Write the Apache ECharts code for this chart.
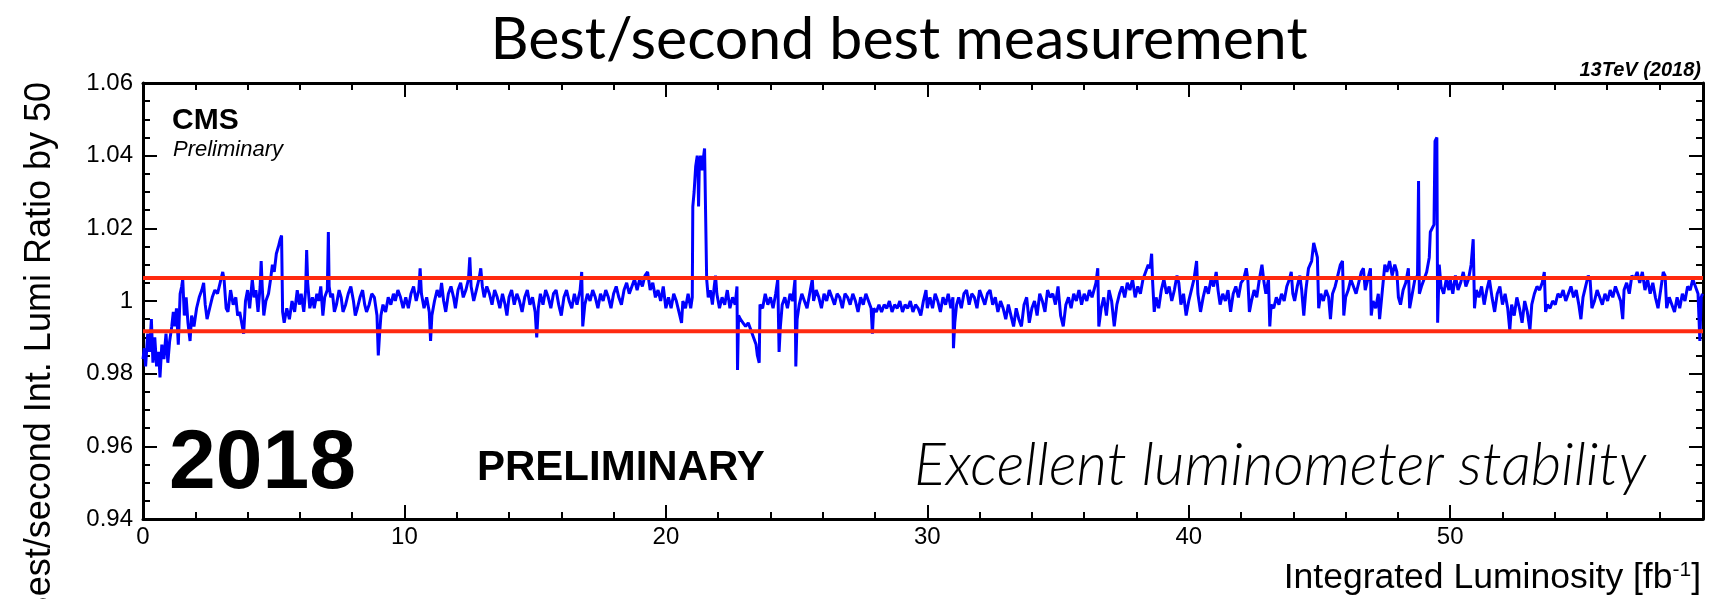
<!DOCTYPE html>
<html><head><meta charset="utf-8">
<script src="https://cdn.jsdelivr.net/npm/echarts@6/dist/echarts.min.js"></script>
<style>html,body{margin:0;padding:0;background:#fff}#c{width:1718px;height:599px}</style>
</head><body><div id="c"></div>
<script>
const TITLE = 'Best/second best measurement';
const Y_NAME = 'Best/second Int. Lumi Ratio by 50';
const X_NAME = 'Integrated Luminosity [fb{sup|-1}]';
const ENERGY = '13TeV (2018)';
const X_MIN = 0, X_MAX = 59.67, X_STEP = 10, X_MINOR = 2;
const Y_MIN = 0.94, Y_MAX = 1.06, Y_STEP = 0.02;
const BAND_UPPER = 1.0063, BAND_LOWER = 0.9917;

// [integrated luminosity (fb^-1), best/second ratio]
const run0to10 = [[0.00,0.984],[0.05,0.987],[0.10,0.982],[0.18,0.991],[0.25,0.986],[0.32,0.995],[0.38,0.983],[0.45,0.990],[0.52,0.982],[0.60,0.986],[0.65,0.979],[0.72,0.988],[0.80,0.984],[0.88,0.991],[0.95,0.983],[1.02,0.989],[1.10,0.993],[1.16,0.997],[1.22,0.993],[1.28,0.998],[1.35,0.988],[1.42,1.002],[1.48,1.004],[1.52,1.006],[1.58,0.996],[1.65,1.001],[1.72,0.994],[1.80,0.989],[1.86,0.996],[1.95,0.993],[2.05,0.998],[2.15,1.001],[2.25,1.003],[2.32,1.005],[2.38,0.999],[2.45,0.995],[2.55,0.998],[2.65,1.001],[2.75,1.003],[2.85,1.002],[2.95,1.005],[3.05,1.008],[3.10,1.006],[3.18,0.998],[3.25,0.997],[3.35,1.003],[3.45,0.999],[3.55,1.001],[3.62,0.996],[3.70,0.997],[3.80,0.993],[3.85,0.991],[3.92,1.000],[4.00,1.003],[4.08,0.998],[4.18,1.006],[4.25,1.001],[4.32,1.003],[4.40,0.997],[4.48,1.004],[4.52,1.011],[4.56,1.004],[4.62,0.996],[4.70,1.000],[4.80,1.002],[4.88,1.006],[4.95,1.010],[5.02,1.008],[5.10,1.013],[5.18,1.015],[5.25,1.017],[5.30,1.018],[5.34,0.997],[5.40,0.994],[5.50,0.998],[5.60,0.995],[5.70,1.000],[5.80,0.997],[5.90,1.003],[5.98,0.999],[6.05,1.002],[6.15,0.997],[6.22,1.003],[6.26,1.014],[6.30,1.005],[6.38,0.998],[6.48,1.001],[6.55,0.998],[6.65,1.002],[6.72,1.000],[6.80,1.004],[6.88,0.996],[6.95,1.001],[7.05,1.003],[7.09,1.019],[7.12,1.004],[7.18,1.001],[7.25,1.002],[7.32,0.997],[7.40,0.999],[7.50,1.003],[7.58,1.001],[7.65,0.997],[7.75,0.999],[7.85,1.002],[7.95,1.004],[8.05,1.000],[8.12,0.996],[8.20,0.998],[8.30,1.001],[8.40,1.003],[8.48,0.999],[8.55,0.997],[8.65,0.999],[8.75,1.002],[8.85,1.001],[8.95,0.996],[9.00,0.985],[9.05,0.991],[9.10,0.996],[9.18,0.999],[9.28,0.997],[9.38,1.001],[9.48,0.999],[9.58,1.002],[9.65,1.000],[9.75,1.003],[9.85,1.001],[9.95,0.998]];
const run10to20 = [[10.05,1.001],[10.15,0.998],[10.25,1.002],[10.35,1.004],[10.45,1.000],[10.55,1.003],[10.60,1.009],[10.65,1.002],[10.75,0.998],[10.85,1.001],[10.95,0.997],[11.00,0.989],[11.05,0.996],[11.15,1.000],[11.25,1.003],[11.35,1.001],[11.42,1.005],[11.50,1.000],[11.58,0.997],[11.68,1.002],[11.78,1.004],[11.88,1.001],[11.95,0.998],[12.05,1.003],[12.15,1.005],[12.25,1.001],[12.35,1.003],[12.45,1.006],[12.50,1.012],[12.55,1.004],[12.65,1.000],[12.75,1.003],[12.85,1.006],[12.92,1.009],[12.98,1.004],[13.05,1.001],[13.15,1.004],[13.25,1.002],[13.35,0.999],[13.45,1.003],[13.55,1.001],[13.65,0.998],[13.75,1.002],[13.85,0.999],[13.92,0.996],[14.00,1.001],[14.10,1.003],[14.20,0.999],[14.30,1.002],[14.40,1.000],[14.50,0.997],[14.60,1.001],[14.70,1.003],[14.80,0.999],[14.90,1.001],[15.00,0.997],[15.06,0.990],[15.12,0.998],[15.20,1.002],[15.30,0.999],[15.40,1.003],[15.50,1.001],[15.60,0.998],[15.70,1.002],[15.80,1.003],[15.90,0.999],[16.00,0.996],[16.10,1.001],[16.20,1.003],[16.30,1.000],[16.40,0.998],[16.50,1.002],[16.60,0.999],[16.72,1.003],[16.78,1.008],[16.82,0.993],[16.90,0.999],[17.00,1.002],[17.10,1.000],[17.20,1.003],[17.30,1.001],[17.40,0.998],[17.50,1.002],[17.60,1.000],[17.70,1.003],[17.80,1.001],[17.90,0.998],[18.00,1.002],[18.10,1.004],[18.20,1.001],[18.30,0.999],[18.40,1.003],[18.50,1.005],[18.60,1.002],[18.70,1.004],[18.80,1.006],[18.90,1.003],[19.00,1.006],[19.10,1.004],[19.20,1.007],[19.30,1.008],[19.40,1.003],[19.50,1.005],[19.60,1.001],[19.70,1.003],[19.80,1.000],[19.90,1.004],[20.00,0.998]];
const run20to30 = [[20.10,1.001],[20.20,0.998],[20.30,1.002],[20.40,1.000],[20.50,0.997],[20.60,0.994],[20.65,1.000],[20.75,0.998],[20.85,1.002],[20.95,0.998],[21.01,1.001],[21.03,1.026],[21.08,1.030],[21.14,1.037],[21.20,1.040],[21.23,1.036],[21.25,1.026],[21.28,1.038],[21.33,1.040],[21.38,1.036],[21.43,1.039],[21.48,1.042],[21.53,1.042],[21.56,1.006],[21.62,1.001],[21.70,1.003],[21.78,0.999],[21.85,1.004],[21.90,1.007],[21.95,1.002],[22.05,0.998],[22.15,1.001],[22.25,0.999],[22.35,1.003],[22.45,0.998],[22.55,1.001],[22.65,0.999],[22.72,1.004],[22.74,0.981],[22.78,0.996],[22.85,0.995],[22.95,0.994],[23.05,0.993],[23.15,0.994],[23.25,0.992],[23.35,0.990],[23.45,0.988],[23.50,0.985],[23.57,0.983],[23.60,0.999],[23.70,0.998],[23.80,1.002],[23.90,0.999],[24.00,1.001],[24.10,0.998],[24.20,1.002],[24.28,1.006],[24.33,0.986],[24.38,0.993],[24.45,0.999],[24.55,1.001],[24.65,0.998],[24.75,1.002],[24.85,1.000],[24.94,1.006],[24.97,0.982],[25.02,0.995],[25.10,0.999],[25.20,1.002],[25.30,1.000],[25.40,0.998],[25.50,1.002],[25.60,1.006],[25.65,1.000],[25.75,1.003],[25.85,1.001],[25.95,0.998],[26.05,1.002],[26.15,1.000],[26.25,1.003],[26.35,1.001],[26.45,0.999],[26.55,1.002],[26.65,1.001],[26.75,0.998],[26.85,1.002],[26.95,1.001],[27.05,0.999],[27.15,1.002],[27.25,1.000],[27.35,0.997],[27.45,1.001],[27.55,0.999],[27.65,1.002],[27.75,1.000],[27.85,0.998],[27.90,0.991],[27.95,0.998],[28.05,0.997],[28.15,0.999],[28.25,0.997],[28.35,0.999],[28.45,0.998],[28.55,1.000],[28.65,0.997],[28.75,0.999],[28.85,0.998],[28.95,1.000],[29.05,0.997],[29.15,0.999],[29.25,0.998],[29.35,1.000],[29.45,0.997],[29.55,0.999],[29.65,0.998],[29.75,0.996],[29.85,1.000],[29.95,1.003],[30.00,0.998]];
const run30to40 = [[30.10,1.001],[30.20,0.998],[30.30,1.002],[30.40,1.000],[30.50,0.997],[30.60,1.001],[30.70,0.999],[30.80,1.002],[30.90,0.998],[30.98,1.001],[31.00,0.987],[31.05,0.994],[31.12,0.999],[31.20,1.001],[31.30,0.998],[31.40,1.002],[31.50,1.003],[31.60,0.999],[31.70,1.002],[31.80,1.001],[31.90,0.998],[32.00,1.003],[32.10,1.001],[32.20,0.999],[32.30,1.002],[32.40,1.003],[32.50,0.999],[32.60,1.001],[32.70,0.997],[32.80,1.000],[32.90,0.998],[33.00,0.995],[33.10,0.999],[33.20,0.996],[33.30,0.993],[33.40,0.998],[33.50,0.995],[33.60,0.993],[33.70,0.999],[33.80,1.001],[33.90,0.994],[34.00,0.998],[34.10,1.000],[34.20,0.996],[34.30,1.002],[34.40,1.000],[34.50,0.997],[34.60,1.003],[34.70,1.001],[34.80,1.002],[34.90,0.999],[35.00,1.004],[35.10,0.996],[35.20,0.993],[35.30,0.999],[35.40,1.001],[35.50,0.998],[35.60,1.002],[35.70,1.000],[35.80,1.003],[35.90,0.999],[36.00,1.002],[36.10,1.000],[36.20,1.003],[36.30,1.001],[36.45,1.005],[36.52,1.009],[36.56,0.993],[36.65,0.998],[36.75,1.001],[36.85,0.996],[36.95,1.003],[37.05,1.000],[37.15,0.993],[37.25,0.999],[37.35,1.002],[37.45,1.004],[37.55,1.001],[37.65,1.005],[37.75,1.003],[37.85,1.006],[37.95,1.001],[38.05,1.004],[38.15,1.002],[38.25,1.006],[38.35,1.008],[38.45,1.010],[38.52,1.009],[38.58,1.013],[38.62,1.005],[38.68,0.997],[38.75,1.001],[38.85,0.998],[38.95,1.003],[39.05,1.006],[39.15,1.002],[39.25,1.004],[39.35,1.000],[39.45,1.003],[39.55,1.007],[39.62,1.005],[39.70,0.999],[39.80,1.002],[39.90,0.996],[40.00,1.000]];
const run40to50 = [[40.10,1.003],[40.20,1.006],[40.30,1.011],[40.35,1.002],[40.45,0.997],[40.55,1.001],[40.65,1.004],[40.75,1.002],[40.85,1.006],[40.95,1.004],[41.05,1.008],[41.12,1.003],[41.20,0.999],[41.30,1.002],[41.40,1.000],[41.50,1.003],[41.60,0.997],[41.70,1.002],[41.80,1.004],[41.90,1.001],[42.00,1.005],[42.10,1.006],[42.20,1.009],[42.26,1.006],[42.32,0.997],[42.40,1.000],[42.50,1.003],[42.60,1.001],[42.70,1.006],[42.80,1.010],[42.88,1.005],[42.95,1.002],[43.05,1.006],[43.10,0.993],[43.15,0.999],[43.25,0.998],[43.35,1.001],[43.45,0.999],[43.55,1.002],[43.65,1.000],[43.75,1.004],[43.85,1.006],[43.92,1.008],[43.98,1.002],[44.05,1.000],[44.15,1.004],[44.25,1.007],[44.32,1.003],[44.40,0.996],[44.48,1.003],[44.58,1.009],[44.70,1.011],[44.78,1.016],[44.85,1.016],[44.92,1.012],[44.97,0.998],[45.05,1.002],[45.15,1.000],[45.25,1.003],[45.35,1.001],[45.42,0.995],[45.50,1.002],[45.60,1.004],[45.70,1.007],[45.80,1.010],[45.88,1.011],[45.93,0.996],[46.00,1.001],[46.10,1.003],[46.20,1.006],[46.30,1.004],[46.40,1.002],[46.50,1.005],[46.60,1.008],[46.68,1.009],[46.75,1.003],[46.85,1.006],[46.95,1.009],[46.98,0.996],[47.05,1.000],[47.15,0.998],[47.25,1.002],[47.30,0.995],[47.38,1.001],[47.50,1.010],[47.58,1.008],[47.68,1.011],[47.78,1.007],[47.88,1.010],[47.96,1.008],[48.02,1.001],[48.10,0.999],[48.20,1.003],[48.30,1.005],[48.40,1.009],[48.45,0.998],[48.55,1.002],[48.65,1.006],[48.75,1.007],[48.79,1.033],[48.82,1.002],[48.90,1.004],[49.00,1.006],[49.10,1.008],[49.20,1.012],[49.24,1.019],[49.30,1.019],[49.38,1.021],[49.42,1.044],[49.49,1.045],[49.52,0.994],[49.58,1.010],[49.65,1.004],[49.75,1.002],[49.85,1.006],[49.95,1.003],[50.00,1.006]];
const run50to60 = [[50.10,1.002],[50.20,1.007],[50.30,1.003],[50.40,1.005],[50.50,1.008],[50.60,1.004],[50.70,1.006],[50.80,1.010],[50.88,1.017],[50.93,0.998],[51.00,1.003],[51.10,1.001],[51.20,1.004],[51.30,0.999],[51.40,1.003],[51.50,1.006],[51.60,1.001],[51.70,0.997],[51.80,1.002],[51.90,1.004],[52.00,0.999],[52.10,1.002],[52.20,0.998],[52.28,0.992],[52.35,0.999],[52.45,0.996],[52.55,1.001],[52.65,0.998],[52.75,0.994],[52.85,1.000],[52.95,0.997],[53.05,0.992],[53.12,0.999],[53.22,1.002],[53.32,1.004],[53.42,1.003],[53.52,1.005],[53.60,1.008],[53.65,0.997],[53.72,0.999],[53.82,0.998],[53.92,1.000],[54.02,0.999],[54.12,1.002],[54.22,1.001],[54.32,1.003],[54.42,1.000],[54.52,1.002],[54.62,1.004],[54.72,1.001],[54.82,1.003],[54.92,0.999],[55.00,0.995],[55.08,1.001],[55.18,1.004],[55.28,1.007],[55.35,1.006],[55.42,0.998],[55.52,1.000],[55.62,1.003],[55.72,1.001],[55.82,0.999],[55.92,1.002],[56.02,1.000],[56.12,1.003],[56.22,1.001],[56.32,1.004],[56.42,1.002],[56.52,1.000],[56.60,0.995],[56.65,1.003],[56.75,1.005],[56.85,1.002],[56.95,1.007],[57.05,1.006],[57.15,1.008],[57.25,1.005],[57.35,1.008],[57.45,1.003],[57.55,1.006],[57.65,1.002],[57.75,1.005],[57.85,1.001],[57.95,0.998],[58.05,1.003],[58.15,1.008],[58.22,1.007],[58.28,0.998],[58.38,1.001],[58.48,0.999],[58.58,0.997],[58.68,1.001],[58.78,0.998],[58.88,1.002],[58.98,1.000],[59.08,1.004],[59.18,1.003],[59.28,1.006],[59.38,1.004],[59.48,1.002],[59.55,0.989],[59.60,1.001],[59.65,1.002]];

const ratioData = [].concat(run0to10, run10to20, run20to30, run30to40, run40to50, run50to60);

const chart = echarts.init(document.getElementById('c'), null, {renderer: 'canvas'});
const LBL = '"Liberation Sans", Arial, sans-serif';
const black = '#000';
function xAx(pos, interval, len, labels, line) {
  return {
    type: 'value', position: pos, min: X_MIN, max: X_MAX, interval: interval,
    axisLine: {show: line, onZero: false, lineStyle: {color: black, width: 3}},
    axisTick: {show: true, inside: true, length: len, lineStyle: {color: black, width: 2}},
    axisLabel: {show: labels, showMaxLabel: false, color: black, fontSize: 24, fontFamily: LBL, margin: 6},
    splitLine: {show: false}
  };
}
function yAx(pos, labels) {
  return {
    type: 'value', position: pos, min: Y_MIN, max: Y_MAX, interval: Y_STEP,
    axisLine: {show: true, onZero: false, lineStyle: {color: black, width: 3}},
    axisTick: {show: true, inside: true, length: 14, lineStyle: {color: black, width: 2}},
    minorTick: {show: true, splitNumber: 4, length: 7, lineStyle: {color: black, width: 2}},
    axisLabel: {show: labels, color: black, fontSize: 24, fontFamily: LBL, margin: 10},
    splitLine: {show: false}, minorSplitLine: {show: false}
  };
}
function bandSeries(v) {
  return {
    type: 'line', xAxisIndex: 0, yAxisIndex: 0, data: [[X_MIN, v], [X_MAX, v]],
    showSymbol: false, symbol: 'none', silent: true, z: 5,
    lineStyle: {color: '#ff2a10', width: 4}
  };
}

chart.setOption({
  animation: false,
  backgroundColor: '#fff',
  grid: {left: 143, right: 15, top: 83, bottom: 80, containLabel: false, outerBoundsMode: 'none'},
  xAxis: [
    xAx('bottom', X_STEP, 14, true, true),
    xAx('bottom', X_MINOR, 7, false, false),
    xAx('top', X_STEP, 14, false, true),
    xAx('top', X_MINOR, 7, false, false)
  ],
  yAxis: [yAx('left', true), yAx('right', false)],
  series: [
    {
      type: 'line', xAxisIndex: 0, yAxisIndex: 0, data: ratioData, showSymbol: false, symbol: 'none',
      lineStyle: {color: '#0000ff', width: 3}, z: 2, silent: true
    },
    bandSeries(BAND_UPPER),
    bandSeries(BAND_LOWER)
  ],
  graphic: [
    {type: 'text', x: 899, y: 40, z: 10, style: {text: TITLE, font: '59px Lato, "Open Sans", sans-serif', fill: black, textAlign: 'center', textVerticalAlign: 'middle'}},
    {type: 'text', x: 1701, y: 70, z: 10, style: {text: ENERGY, font: 'italic bold 20px ' + LBL, fill: black, textAlign: 'right', textVerticalAlign: 'middle'}},
    {type: 'text', x: 172, y: 121, z: 10, style: {text: 'CMS', font: 'bold 30px ' + LBL, fill: black, textAlign: 'left', textVerticalAlign: 'middle'}},
    {type: 'text', x: 173, y: 150, z: 10, style: {text: 'Preliminary', font: 'italic 22px ' + LBL, fill: black, textAlign: 'left', textVerticalAlign: 'middle'}},
    {type: 'text', x: 169, y: 465, z: 10, style: {text: '2018', font: 'bold 84px ' + LBL, fill: black, textAlign: 'left', textVerticalAlign: 'middle'}},
    {type: 'text', x: 477, y: 468, z: 10, style: {text: 'PRELIMINARY', font: 'bold 42px ' + LBL, fill: black, textAlign: 'left', textVerticalAlign: 'middle'}},
    {type: 'text', x: 1280, y: 466, z: 10, style: {text: 'Excellent luminometer stability', font: 'italic 300 59px Lato, "Open Sans", sans-serif', fill: black, textAlign: 'center', textVerticalAlign: 'middle'}},
    {type: 'text', x: 1701, y: 578, z: 10, style: {text: X_NAME, font: '35.5px ' + LBL, fill: black, textAlign: 'right', textVerticalAlign: 'middle',
      rich: {sup: {fontSize: 21, fontFamily: 'Liberation Sans', verticalAlign: 'top', padding: [0, 0, 14, 0]}}}},
    {type: 'text', x: 40, y: 82, rotation: Math.PI / 2, z: 10, style: {text: Y_NAME, font: '36px ' + LBL, fill: black, textAlign: 'right', textVerticalAlign: 'middle'}}
  ]
});
</script>
</body></html>
